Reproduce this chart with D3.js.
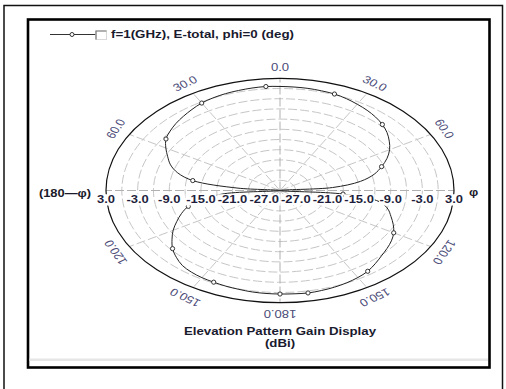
<!DOCTYPE html>
<html>
<head>
<meta charset="utf-8">
<script src="https://cdn.jsdelivr.net/npm/d3@7"></script>
<style>
  html,body{margin:0;padding:0;background:#fff;}
  svg{display:block;}
  text{font-family:"Liberation Sans", Arial, sans-serif;}
</style>
</head>
<body>
<div id="chart"></div>
<script>
// ---------------- data ----------------
const angles = [-180,-175,-170,-165,-160,-155,-150,-145,-140,-135,-130,-125,-120,-115,-110,-105,
  -100,-95,-90,-85,-80,-75,-70,-65,-60,-55,-50,-45,-40,-35,-30,-25,-20,-15,-10,-5,
  0,5,10,15,20,25,30,35,40,45,50,55,60,65,70,75,80,85,90,95,
  100,105,110,115,120,125,130,135,140,145,150,155,160,165,170,175];
const gain = [0.45,0.4,0.3,0.1,-0.05,-0.25,-0.4,-0.7,-1.2,-2.2,-3.4,-5.0,-6.6,-8.4,-10.1,-12.0,
  -15.0,-19.5,-30,-22,-13.2,-9.9,-7.9,-6.5,-5.0,-3.6,-2.8,-2.1,-1.5,-0.9,-0.3,0.05,0.3,0.45,0.6,0.7,
  0.6,0.55,0.5,0.35,0.2,-0.2,-0.7,-1.2,-1.8,-2.55,-3.5,-4.7,-6.0,-7.6,-9.5,-11.5,-14.5,-20,-30,-18,
  -10.8,-8.8,-7.6,-6.3,-5.1,-4.2,-3.5,-2.8,-1.9,-1.0,-0.45,-0.05,0.25,0.45,0.6,0.5];
const ringValues = [-27,-24,-21,-18,-15,-12,-9,-6,-3,0];
const outerValue = 3;
const ringLabelValues = [3,-3,-9,-15,-21,-27];
const spokeAngles = [0,30,60,90,120,150,180,210,240,270,300,330];
const angleLabelsRight = [0,30,60,120,150,180];
const angleLabelsLeft = [30,60,120,150];
const legendText = "f=1(GHz), E-total, phi=0 (deg)";
const titleText = "Elevation Pattern Gain Display";
const unitText = "(dBi)";

// ---------------- layout ----------------
const W = 506, H = 389;
const cx = 280, cy = 190.5, RX = 174, RY = 112.2;

const svg = d3.select("#chart").append("svg").attr("width", W).attr("height", H);

const r = d3.scaleLinear().domain([-30, 3]).range([0, 1]).clamp(true);
const rad = d3.scaleLinear().domain([0, 360]).range([0, 2 * Math.PI]);
const px = (a, v) => cx + RX * r(v) * Math.sin(rad(a));
const py = (a, v) => cy - RY * r(v) * Math.cos(rad(a));

// frames
svg.append("rect").attr("x", 4).attr("y", 5.5).attr("width", 498.5).attr("height", 400)
  .attr("fill", "#fff").attr("stroke", "#111").attr("stroke-width", 1.5);
svg.append("rect").attr("x", 28).attr("y", 19.5).attr("width", 461.5).attr("height", 348)
  .attr("fill", "#fff").attr("stroke", "#000").attr("stroke-width", 2.6);
svg.append("rect").attr("x", 29.5).attr("y", 358.5).attr("width", 458.5).attr("height", 2.5)
  .attr("fill", "#e6e6e6");

const g = svg.append("g");

// grid rings
g.selectAll("ellipse.ring").data(ringValues).join("ellipse")
  .attr("class", "ring")
  .attr("cx", cx).attr("cy", cy)
  .attr("rx", d => RX * r(d)).attr("ry", d => RY * r(d))
  .attr("fill", "none").attr("stroke", "#c6c6c6").attr("stroke-width", 1)
  .attr("stroke-dasharray", "9,3");

// spokes
g.selectAll("line.spoke").data(spokeAngles).join("line")
  .attr("class", "spoke")
  .attr("x1", cx).attr("y1", cy)
  .attr("x2", d => px(d, outerValue)).attr("y2", d => py(d, outerValue))
  .attr("stroke", d => (d % 90 === 0) ? "#b0b0b0" : "#c6c6c6")
  .attr("stroke-width", 1).attr("stroke-dasharray", "9,3");

// outer ring
g.append("ellipse").attr("cx", cx).attr("cy", cy)
  .attr("rx", RX * r(outerValue)).attr("ry", RY * r(outerValue))
  .attr("fill", "none").attr("stroke", "#111").attr("stroke-width", 1.2);

// pattern
const pts = angles.map((a, i) => [px(a, gain[i]), py(a, gain[i])]);
g.append("path")
  .attr("d", d3.line().curve(d3.curveCatmullRomClosed.alpha(0.5))(pts))
  .attr("fill", "none").attr("stroke", "#222").attr("stroke-width", 1);
g.selectAll("circle.mk").data(pts.filter((p, i) => i % 5 === 0)).join("circle")
  .attr("class", "mk")
  .attr("cx", d => d[0]).attr("cy", d => d[1]).attr("r", 2.1)
  .attr("fill", "#fff").attr("stroke", "#333").attr("stroke-width", 1);

// radial labels (with white backgrounds)
const ringLabelY = 203.3;
function ringLabel(x, v) {
  const grp = g.append("g").attr("transform", `translate(${x},${ringLabelY}) scale(1.18,1)`);
  const bg = grp.append("rect").attr("fill", "#fff");
  const t = grp.append("text").attr("text-anchor", "middle")
    .attr("font-size", 11).attr("font-weight", "bold").attr("fill", "#1e1e3c")
    .text(v.toFixed(1));
  const b = t.node().getBBox();
  bg.attr("x", b.x - 0.5).attr("y", b.y + 1).attr("width", b.width + 1).attr("height", b.height - 1.5);
}
ringLabelValues.forEach(v => ringLabel(px(-90, v), v));
ringLabelValues.slice().reverse().forEach(v => ringLabel(px(90, v), v));

// angle labels
function angleLabel(a, txt) {
  const x = cx + RX * 1.09 * Math.sin(rad(a));
  const y = cy - RY * 1.1 * Math.cos(rad(a));
  g.append("text")
    .attr("transform", `translate(${x},${y}) scale(1.25,1) rotate(${a})`)
    .attr("text-anchor", "middle").attr("dominant-baseline", "central")
    .attr("font-size", 10.5).attr("fill", "#4b4b78")
    .text(txt);
}
angleLabelsRight.forEach(a => angleLabel(a, a.toFixed(1)));
angleLabelsLeft.forEach(a => angleLabel(-a, a.toFixed(1)));

// 90 degree labels
svg.append("text").attr("transform", "translate(65,196.5) scale(1.23,1)")
  .attr("text-anchor", "middle").attr("font-size", 10.5).attr("font-weight", "bold")
  .attr("fill", "#1a1a2a").text("(180\u2014\u03C6)");
svg.append("text").attr("transform", "translate(473.5,196) scale(1.23,1)")
  .attr("text-anchor", "middle").attr("font-size", 10.5).attr("font-weight", "bold")
  .attr("fill", "#1a1a2a").text("\u03C6");

// legend
svg.append("line").attr("x1", 50).attr("x2", 95.5).attr("y1", 34.5).attr("y2", 34.5)
  .attr("stroke", "#333").attr("stroke-width", 1);
svg.append("circle").attr("cx", 72).attr("cy", 34.5).attr("r", 2)
  .attr("fill", "#fff").attr("stroke", "#333").attr("stroke-width", 1);
svg.append("rect").attr("x", 96).attr("y", 31).attr("width", 10.5).attr("height", 8.5)
  .attr("fill", "#fff").attr("stroke", "#d8d8d8").attr("stroke-width", 1);
svg.append("path").attr("d", "M96,39.5 V31 H106.5").attr("fill", "none")
  .attr("stroke", "#777").attr("stroke-width", 1.2);
svg.append("text").attr("transform", "translate(111,38.3) scale(1.27,1)")
  .attr("font-size", 10.5).attr("font-weight", "bold").attr("fill", "#1a1a2e")
  .text(legendText);

// titles
svg.append("text").attr("transform", "translate(280,334.8) scale(1.3,1)")
  .attr("text-anchor", "middle").attr("font-size", 10.2).attr("font-weight", "bold")
  .attr("fill", "#1a1a2e").text(titleText);
svg.append("text").attr("transform", "translate(280,346.8) scale(1.3,1)")
  .attr("text-anchor", "middle").attr("font-size", 10.2).attr("font-weight", "bold")
  .attr("fill", "#1a1a2e").text(unitText);
</script>
</body>
</html>
